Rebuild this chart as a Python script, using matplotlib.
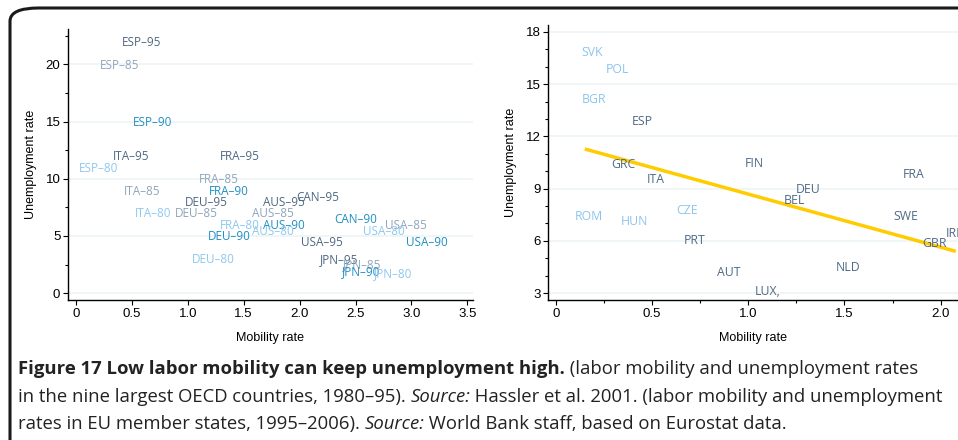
import matplotlib.pyplot as plt
from matplotlib import font_manager
from matplotlib.patches import FancyBboxPatch
import numpy as np

# left panel: OECD countries 1980-95
oecd_labels = ["ESP–95", "ESP–85", "ESP–90", "ITA–95", "FRA–95", "ESP–80",
               "FRA–85", "ITA–85", "FRA–90", "DEU–95", "AUS–95", "CAN–95",
               "ITA–80", "DEU–85", "AUS–85", "FRA–80", "AUS–90", "AUS–80",
               "CAN–90", "USA–85", "USA–80", "DEU–90", "USA–95", "USA–90",
               "DEU–80", "JPN–95", "JPN–85", "JPN–90", "JPN–80"]
oecd_mob = [0.59, 0.39, 0.69, 0.49, 1.47, 0.20,
            1.28, 0.59, 1.37, 1.17, 1.86, 2.16,
            0.69, 1.08, 1.76, 1.47, 1.86, 1.76,
            2.50, 2.95, 2.75, 1.37, 2.20, 3.14,
            1.23, 2.35, 2.56, 2.55, 2.84]
oecd_unemp = [21.9, 19.9, 14.9, 11.96, 11.96, 10.9,
              9.96, 8.9, 8.9, 7.95, 7.95, 8.4,
              6.99, 6.99, 6.99, 5.94, 5.94, 5.4,
              6.46, 5.94, 5.4, 4.98, 4.45, 4.45,
              2.97, 2.97, 2.53, 1.92, 1.75]

# right panel: EU member states 1995-2006
eu_labels = ["SVK", "POL", "BGR", "ESP", "GRC", "ITA", "FIN", "FRA", "DEU",
             "BEL", "SWE", "IRL", "GBR", "ROM", "HUN", "CZE", "PRT", "AUT",
             "NLD", "LUX,"]
eu_mob = [0.19, 0.32, 0.20, 0.45, 0.35, 0.52, 1.03, 1.86, 1.31,
          1.24, 1.82, 2.07, 1.97, 0.17, 0.41, 0.68, 0.72, 0.90,
          1.52, 1.10]
eu_unemp = [16.8, 15.86, 14.13, 12.86, 10.38, 9.52, 10.44, 9.8, 8.94,
            8.3, 7.38, 6.4, 5.83, 7.38, 7.1, 7.73, 6.0, 4.2,
            4.44, 3.1]
new_members = ["SVK", "POL", "BGR", "ROM", "HUN", "CZE"]

# fitted line end points
fit_x = [0.16, 2.07]
fit_y = [11.25, 5.42]

year_colors = {"80": "#8ec8ee", "85": "#8fa5bb", "90": "#1f8fc2", "95": "#4f6882"}
dark = "#4e6a86"
light = "#8cc5ec"

names = {f.name for f in font_manager.fontManager.ttflist}
lab_font = "Open Sans" if "Open Sans" in names else "DejaVu Sans"
tick_font = "Liberation Sans" if "Liberation Sans" in names else "DejaVu Sans"
cap_font = "Open Sans" if "Open Sans" in names else "DejaVu Sans"

fig = plt.figure(figsize=(9.58, 4.40), dpi=100)

ax1 = fig.add_axes([68/958, 1-300/440, 405/958, 271/440])
ax2 = fig.add_axes([548/958, 1-300/440, 410/958, 275/440])


def style(ax):
    for s in ["top", "right"]:
        ax.spines[s].set_visible(False)
    for s in ["left", "bottom"]:
        ax.spines[s].set_linewidth(1.0)
    ax.tick_params(direction="out", length=3.5, width=0.8, labelsize=9.5, pad=2)
    ax.tick_params(which="minor", direction="out", length=2.5, width=0.8)
    for t in ax.get_xticklabels() + ax.get_yticklabels():
        t.set_fontfamily(tick_font)
    ax.grid(axis="y", color="#edf3f4", linewidth=1.2)
    ax.set_axisbelow(True)
    ax.set_xlabel("Mobility rate", fontsize=9, family=tick_font, labelpad=9)
    ax.set_ylabel("Unemployment rate", fontsize=9, family=tick_font, labelpad=6)


# left
ax1.set_xlim(-0.07, 3.55)
ax1.set_ylim(-0.6, 23.1)
ax1.set_xticks([0, 0.5, 1.0, 1.5, 2.0, 2.5, 3.0, 3.5])
ax1.set_xticklabels(["0", "0.5", "1.0", "1.5", "2.0", "2.5", "3.0", "3.5"])
ax1.set_yticks([0, 5, 10, 15, 20])
ax1.set_yticks(np.arange(0, 23, 2.5), minor=True)
style(ax1)
for lab, x, y in zip(oecd_labels, oecd_mob, oecd_unemp):
    ax1.text(x, y, lab, ha="center", va="center", fontsize=8.5,
             family=lab_font, color=year_colors[lab[-2:]])

# right
ax2.set_xlim(-0.04, 2.09)
ax2.set_ylim(2.6, 18.4)
ax2.set_xticks([0, 0.5, 1.0, 1.5, 2.0])
ax2.set_xticklabels(["0", "0.5", "1.0", "1.5", "2.0"])
ax2.set_xticks(np.arange(0, 2.1, 0.25), minor=True)
ax2.set_yticks([3, 6, 9, 12, 15, 18])
ax2.set_yticks(np.arange(3, 18.5, 1), minor=True)
style(ax2)
ax2.plot(fit_x, fit_y, color="#ffcc00", linewidth=2.5, zorder=2)
for lab, x, y in zip(eu_labels, eu_mob, eu_unemp):
    c = light if lab in new_members else dark
    ax2.text(x, y, lab, ha="center", va="center", fontsize=8.8,
             family=lab_font, color=c, zorder=3)

# outer rounded frame
frame = FancyBboxPatch((10/958, -0.2), 1.2, 1 - 8/440 + 0.2,
                       boxstyle="round,pad=0,rounding_size=0.03",
                       transform=fig.transFigure, fill=False,
                       edgecolor="#1a1a1a", linewidth=2.2, clip_on=False)
fig.patches.append(frame)

# caption, drawn piece by piece
cap_size = 13.3
lines = [
    [("Figure 17 Low labor mobility can keep unemployment high.", "bold", "normal"),
     (" (labor mobility and unemployment rates", "normal", "normal")],
    [("in the nine largest OECD countries, 1980–95). ", "normal", "normal"),
     ("Source:", "normal", "italic"),
     (" Hassler et al. 2001. (labor mobility and unemployment", "normal", "normal")],
    [("rates in EU member states, 1995–2006). ", "normal", "normal"),
     ("Source:", "normal", "italic"),
     (" World Bank staff, based on Eurostat data.", "normal", "normal")],
]
line_y = [369, 397, 424]
fig.canvas.draw()
r = fig.canvas.get_renderer()
for parts, yy in zip(lines, line_y):
    x = 18
    for txt, w, st in parts:
        t = fig.text(x/958, 1 - yy/440, txt, fontsize=cap_size, family=cap_font,
                     weight=w, style=st, va="center", ha="left", color="#222222")
        x = t.get_window_extent(r).x1

fig.savefig("out.png", dpi=100)
